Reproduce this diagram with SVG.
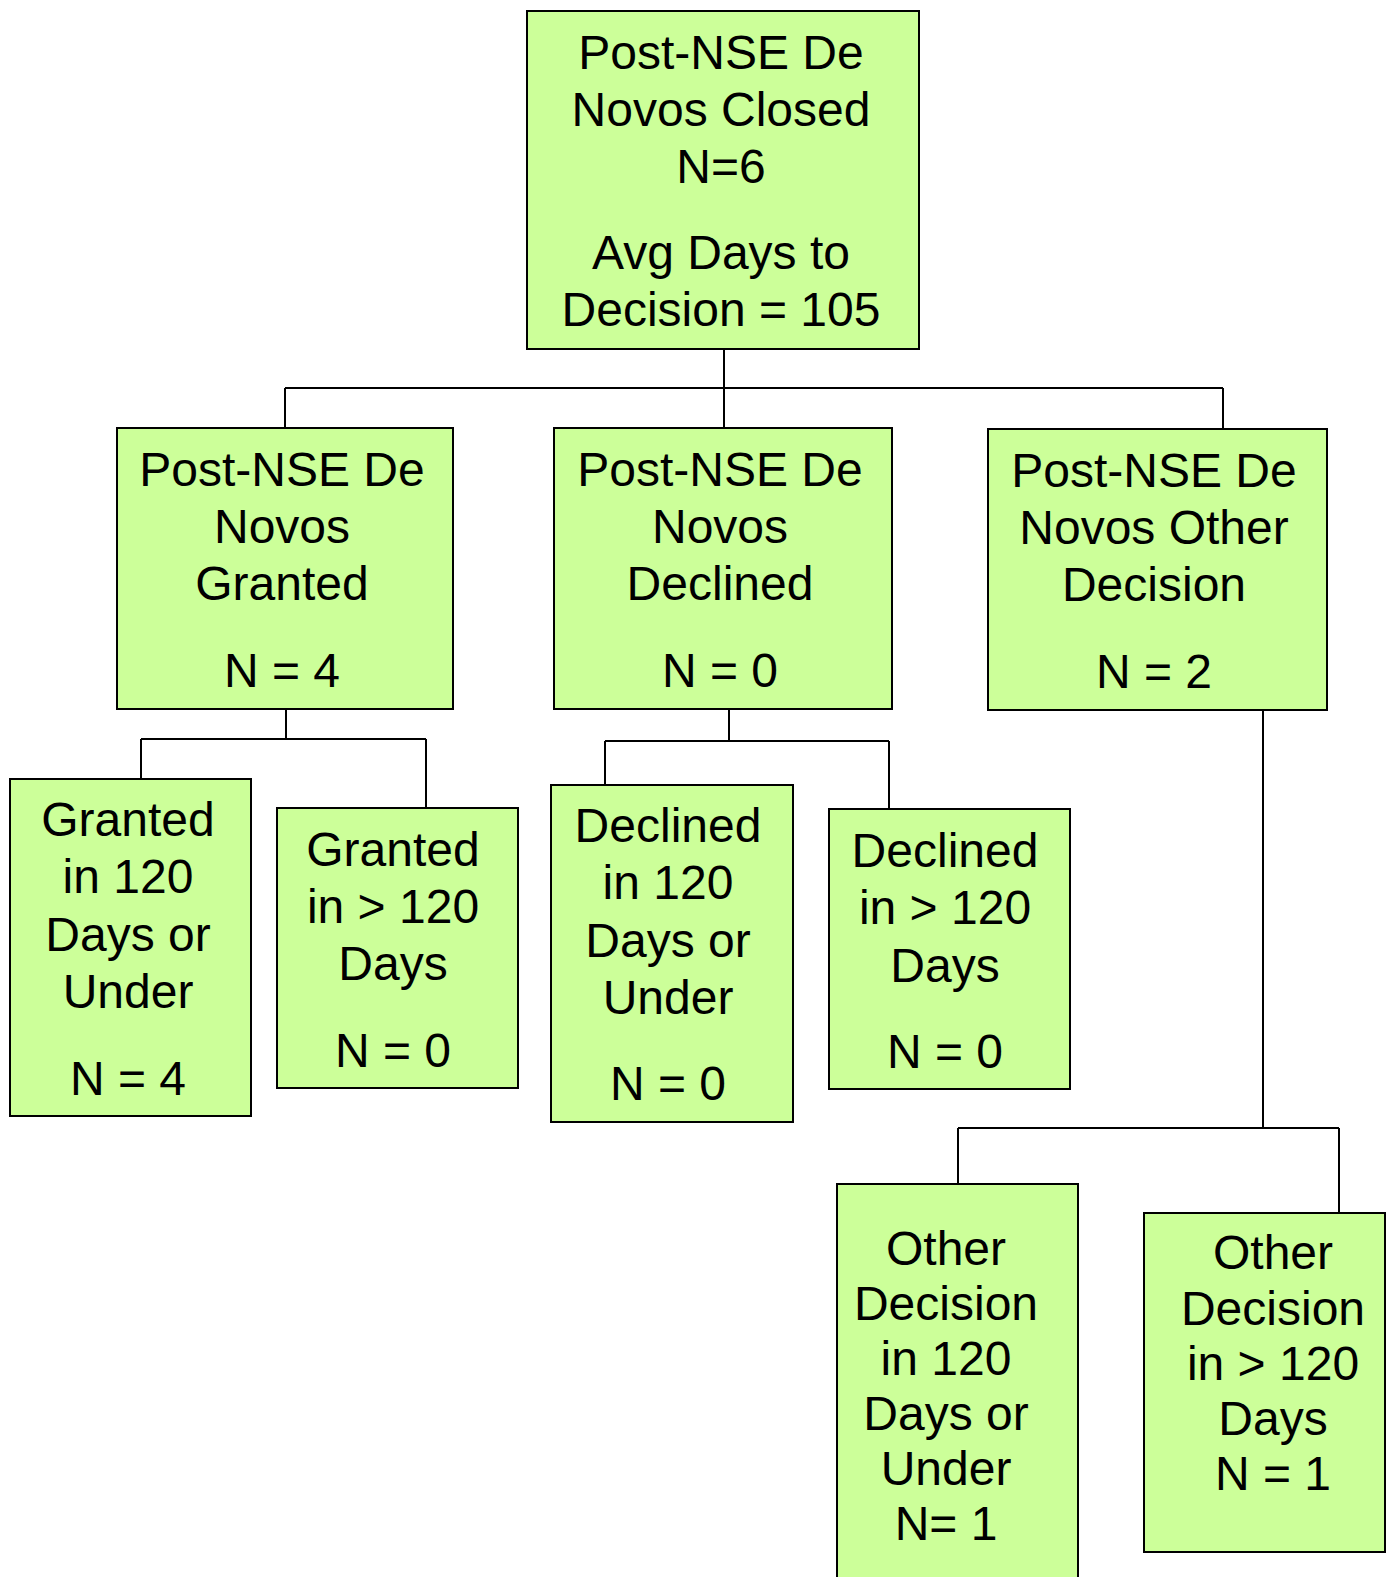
<svg xmlns="http://www.w3.org/2000/svg" width="1393" height="1577" viewBox="0 0 1393 1577">
  <style>
    .box { fill: #CCFF99; stroke: #000; stroke-width: 2; }
    .wire { fill: none; stroke: #000; stroke-width: 2; }
    text { font-family: "Liberation Sans", Arial, sans-serif; font-size: 48px; fill: #000; text-anchor: middle; }
  </style>
  <rect width="1393" height="1577" fill="#fff"/>

  <!-- connectors -->
  <g id="connectors">
    <path class="wire" d="M724 349 V388 M285 388 H1223 M285 388 V428 M724 388 V428 M1223 388 V429"/>
    <path class="wire" d="M286 709 V739 M141 739 H426 M141 739 V779 M426 739 V808"/>
    <path class="wire" d="M729 709 V741 M605 741 H889 M605 741 V785 M889 741 V809"/>
    <path class="wire" d="M1263 710 V1128 M958 1128 H1339 M958 1128 V1184 M1339 1128 V1213"/>
  </g>

  <!-- top level -->
  <g id="node-closed">
    <rect class="box" x="527" y="11" width="392" height="338"/>
    <text x="721" y="69">Post-NSE De</text>
    <text x="721" y="126">Novos Closed</text>
    <text x="721" y="183">N=6</text>
    <text x="721" y="269">Avg Days to</text>
    <text x="721" y="326">Decision = 105</text>
  </g>

  <!-- second level -->
  <g id="node-granted">
    <rect class="box" x="117" y="428" width="336" height="281"/>
    <text x="282" y="486">Post-NSE De</text>
    <text x="282" y="543">Novos</text>
    <text x="282" y="600">Granted</text>
    <text x="282" y="687">N = 4</text>
  </g>
  <g id="node-declined">
    <rect class="box" x="554" y="428" width="338" height="281"/>
    <text x="720" y="486">Post-NSE De</text>
    <text x="720" y="543">Novos</text>
    <text x="720" y="600">Declined</text>
    <text x="720" y="687">N = 0</text>
  </g>
  <g id="node-other">
    <rect class="box" x="988" y="429" width="339" height="281"/>
    <text x="1154" y="487">Post-NSE De</text>
    <text x="1154" y="544">Novos Other</text>
    <text x="1154" y="601">Decision</text>
    <text x="1154" y="688">N = 2</text>
  </g>

  <!-- third level: granted -->
  <g id="node-granted-under">
    <rect class="box" x="10" y="779" width="241" height="337"/>
    <text x="128" y="836">Granted</text>
    <text x="128" y="893">in 120</text>
    <text x="128" y="951">Days or</text>
    <text x="128" y="1008">Under</text>
    <text x="128" y="1095">N = 4</text>
  </g>
  <g id="node-granted-over">
    <rect class="box" x="277" y="808" width="241" height="280"/>
    <text x="393" y="866">Granted</text>
    <text x="393" y="923">in &gt; 120</text>
    <text x="393" y="980">Days</text>
    <text x="393" y="1067">N = 0</text>
  </g>

  <!-- third level: declined -->
  <g id="node-declined-under">
    <rect class="box" x="551" y="785" width="242" height="337"/>
    <text x="668" y="842">Declined</text>
    <text x="668" y="899">in 120</text>
    <text x="668" y="957">Days or</text>
    <text x="668" y="1014">Under</text>
    <text x="668" y="1100">N = 0</text>
  </g>
  <g id="node-declined-over">
    <rect class="box" x="829" y="809" width="241" height="280"/>
    <text x="945" y="867">Declined</text>
    <text x="945" y="924">in &gt; 120</text>
    <text x="945" y="982">Days</text>
    <text x="945" y="1068">N = 0</text>
  </g>

  <!-- third level: other decision -->
  <g id="node-other-under">
    <rect class="box" x="837" y="1184" width="241" height="410"/>
    <text x="946" y="1265">Other</text>
    <text x="946" y="1320">Decision</text>
    <text x="946" y="1375">in 120</text>
    <text x="946" y="1430">Days or</text>
    <text x="946" y="1485">Under</text>
    <text x="946" y="1540">N= 1</text>
  </g>
  <g id="node-other-over">
    <rect class="box" x="1144" y="1213" width="241" height="339"/>
    <text x="1273" y="1269">Other</text>
    <text x="1273" y="1325">Decision</text>
    <text x="1273" y="1380">in &gt; 120</text>
    <text x="1273" y="1435">Days</text>
    <text x="1273" y="1490">N = 1</text>
  </g>
</svg>
